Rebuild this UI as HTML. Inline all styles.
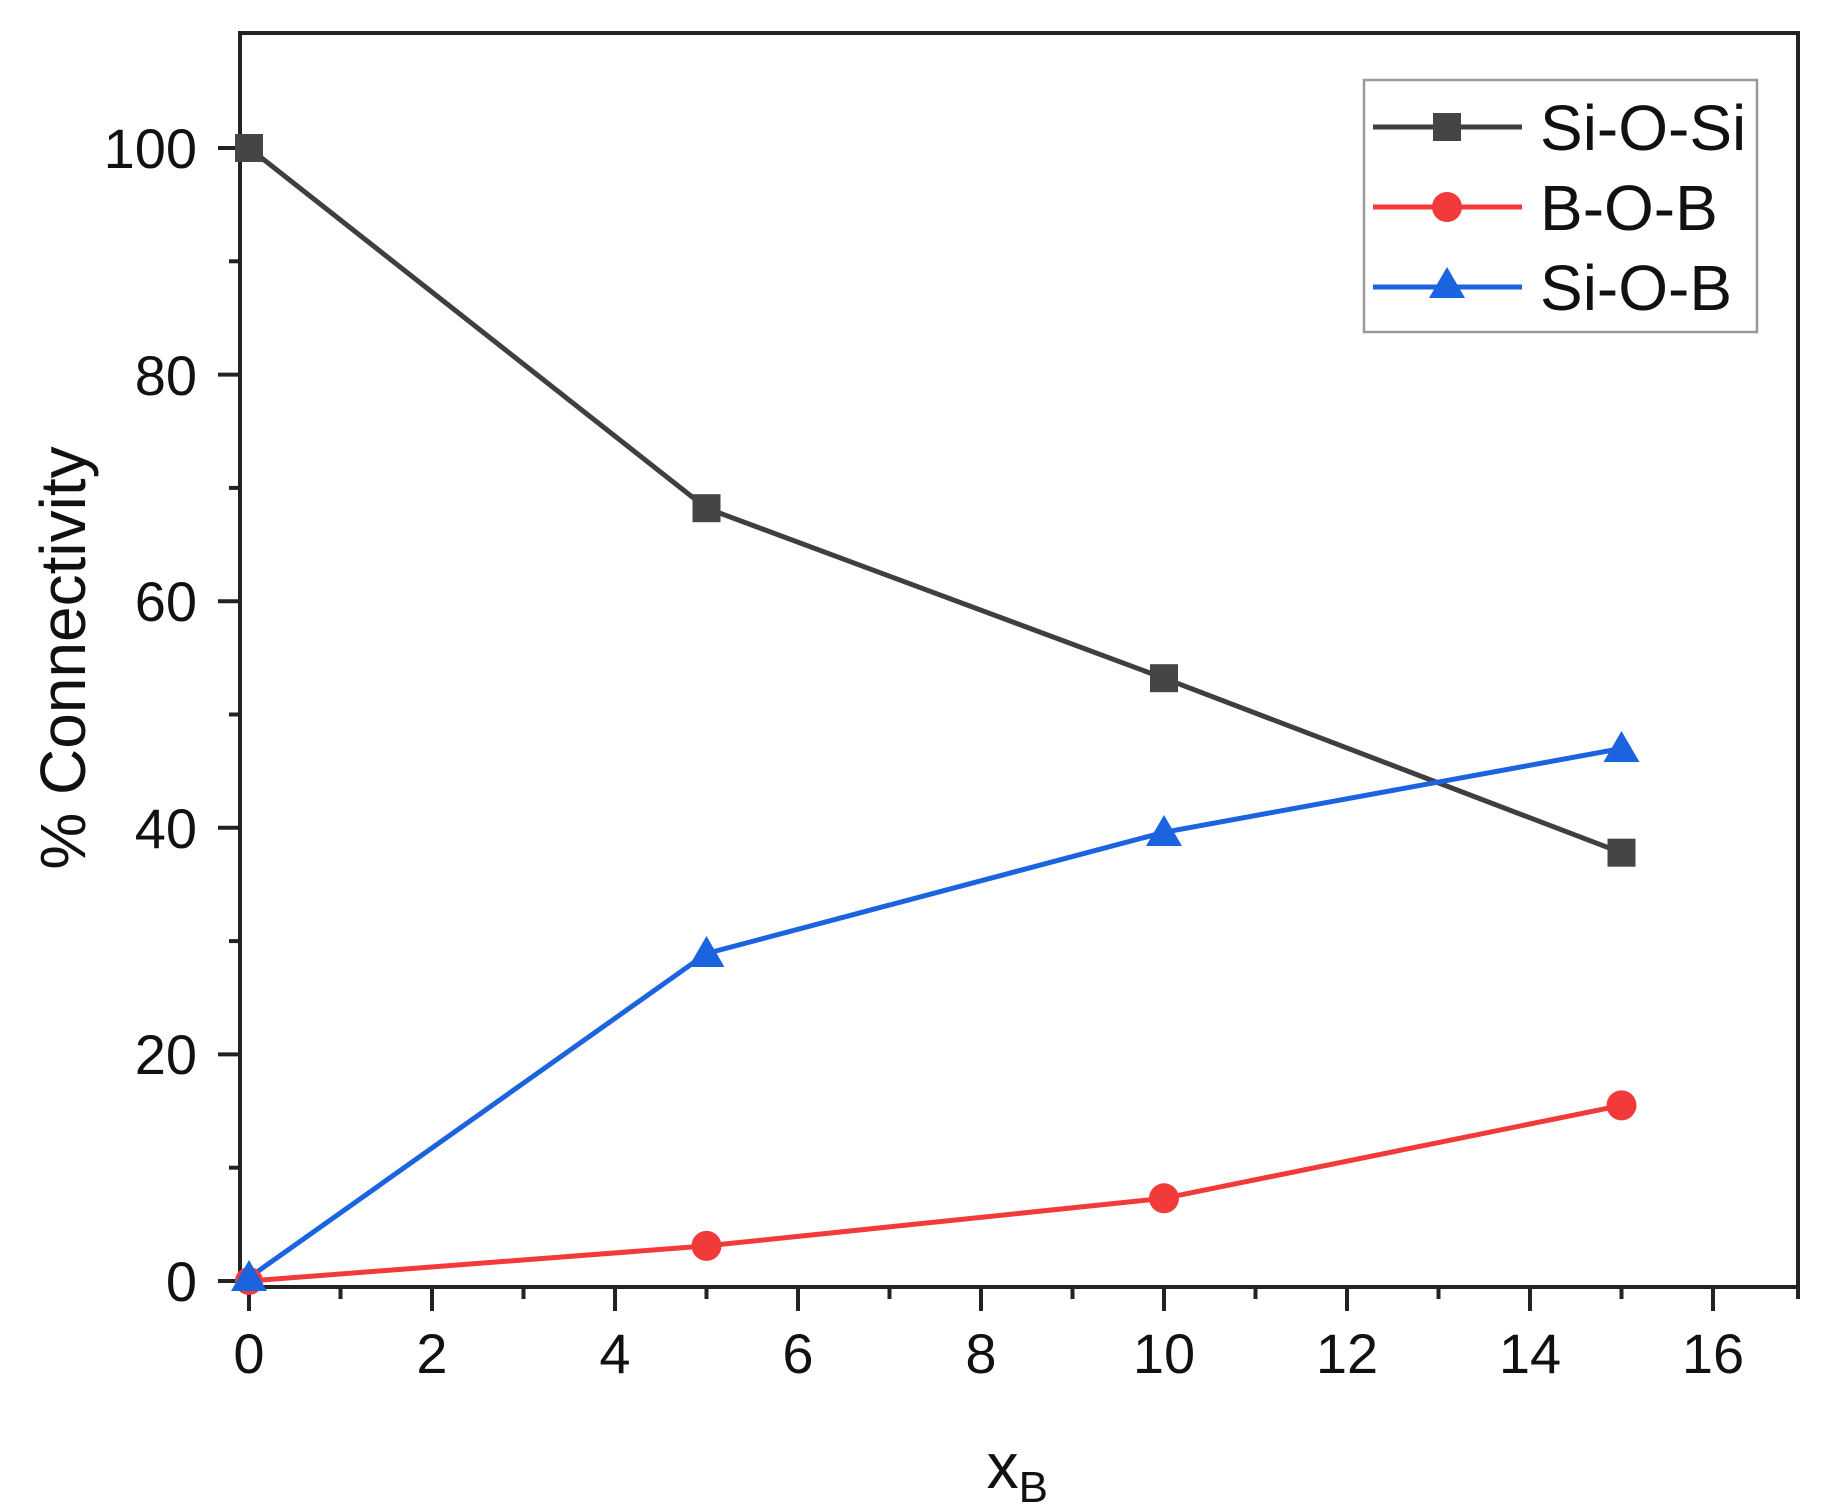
<!DOCTYPE html>
<html><head><style>body{margin:0;background:#fff}svg{display:block}</style></head><body>
<svg width="1833" height="1511" viewBox="0 0 1833 1511" xmlns="http://www.w3.org/2000/svg" font-family="Liberation Sans, Arial, sans-serif">
<rect width="1833" height="1511" fill="#fff"/>
<path d="M240 33 H1798 V1287 H240 Z" fill="none" stroke="#222" stroke-width="4"/>
<g stroke="#222" stroke-width="4">
<line x1="218" y1="1281" x2="240" y2="1281"/>
<line x1="218" y1="1054.4" x2="240" y2="1054.4"/>
<line x1="218" y1="827.8" x2="240" y2="827.8"/>
<line x1="218" y1="601.2" x2="240" y2="601.2"/>
<line x1="218" y1="374.6" x2="240" y2="374.6"/>
<line x1="218" y1="148" x2="240" y2="148"/>
<line x1="229" y1="1167.7" x2="240" y2="1167.7"/>
<line x1="229" y1="941.1" x2="240" y2="941.1"/>
<line x1="229" y1="714.5" x2="240" y2="714.5"/>
<line x1="229" y1="487.9" x2="240" y2="487.9"/>
<line x1="229" y1="261.3" x2="240" y2="261.3"/>
<line x1="249" y1="1287" x2="249" y2="1311"/>
<line x1="432" y1="1287" x2="432" y2="1311"/>
<line x1="615" y1="1287" x2="615" y2="1311"/>
<line x1="798" y1="1287" x2="798" y2="1311"/>
<line x1="981" y1="1287" x2="981" y2="1311"/>
<line x1="1164" y1="1287" x2="1164" y2="1311"/>
<line x1="1347" y1="1287" x2="1347" y2="1311"/>
<line x1="1530" y1="1287" x2="1530" y2="1311"/>
<line x1="1713" y1="1287" x2="1713" y2="1311"/>
<line x1="340.5" y1="1287" x2="340.5" y2="1299"/>
<line x1="523.5" y1="1287" x2="523.5" y2="1299"/>
<line x1="706.5" y1="1287" x2="706.5" y2="1299"/>
<line x1="889.5" y1="1287" x2="889.5" y2="1299"/>
<line x1="1072.5" y1="1287" x2="1072.5" y2="1299"/>
<line x1="1255.5" y1="1287" x2="1255.5" y2="1299"/>
<line x1="1438.5" y1="1287" x2="1438.5" y2="1299"/>
<line x1="1621.5" y1="1287" x2="1621.5" y2="1299"/>
<line x1="1798" y1="1287" x2="1798" y2="1299"/>
</g>
<g font-size="56" fill="#111" text-anchor="end">
<text x="197" y="1301">0</text>
<text x="197" y="1074">20</text>
<text x="197" y="848">40</text>
<text x="197" y="621">60</text>
<text x="197" y="395">80</text>
<text x="197" y="168">100</text>
</g>
<g font-size="56" fill="#111" text-anchor="middle">
<text x="249" y="1373">0</text>
<text x="432" y="1373">2</text>
<text x="615" y="1373">4</text>
<text x="798" y="1373">6</text>
<text x="981" y="1373">8</text>
<text x="1164" y="1373">10</text>
<text x="1347" y="1373">12</text>
<text x="1530" y="1373">14</text>
<text x="1713" y="1373">16</text>
</g>
<text x="1048" y="1488" font-size="64" fill="#111" text-anchor="end">x<tspan font-size="44" dy="14">B</tspan></text>
<text transform="translate(85,658) rotate(-90)" font-size="64" fill="#111" text-anchor="middle">% Connectivity</text>
<polyline points="249,148 706.5,508.2 1164,678.2 1621.5,852.7" fill="none" stroke="#3f3f3f" stroke-width="5"/>
<polyline points="249,1281 706.5,1245.9 1164,1198.3 1621.5,1105.4" fill="none" stroke="#f23a3a" stroke-width="5"/>
<polyline points="249,1277.6 706.5,953.5 1164,832.3 1621.5,748.5" fill="none" stroke="#1c63e0" stroke-width="5"/>
<g fill="#454545">
<rect x="235" y="134" width="28" height="28"/>
<rect x="692.5" y="494.2" width="28" height="28"/>
<rect x="1150" y="664.2" width="28" height="28"/>
<rect x="1607.5" y="838.7" width="28" height="28"/>
</g>
<g fill="#f23a3a">
<circle cx="249" cy="1281" r="14"/>
<circle cx="706.5" cy="1245.9" r="15"/>
<circle cx="1164" cy="1198.3" r="15"/>
<circle cx="1621.5" cy="1105.4" r="15"/>
</g>
<g fill="#1c63e0">
<path d="M249 1260 L267 1291 L231 1291 Z"/>
<path d="M706.5 936 L724.5 967 L688.5 967 Z"/>
<path d="M1164 815 L1182 846 L1146 846 Z"/>
<path d="M1621.5 731 L1639.5 762 L1603.5 762 Z"/>
</g>
<rect x="1364" y="80" width="393" height="252" fill="#fff" stroke="#999" stroke-width="2.5"/>
<line x1="1373" y1="127" x2="1522" y2="127" stroke="#3f3f3f" stroke-width="5"/>
<rect x="1433" y="113" width="28" height="28" fill="#454545"/>
<line x1="1373" y1="207" x2="1522" y2="207" stroke="#f23a3a" stroke-width="5"/>
<circle cx="1447" cy="207" r="15" fill="#f23a3a"/>
<line x1="1373" y1="287" x2="1522" y2="287" stroke="#1c63e0" stroke-width="5"/>
<path d="M1447 267 L1465 298 L1429 298 Z" fill="#1c63e0"/>
<g font-size="64" fill="#111">
<text x="1540" y="150">Si-O-Si</text>
<text x="1540" y="230">B-O-B</text>
<text x="1540" y="310">Si-O-B</text>
</g>
</svg>
</body></html>
